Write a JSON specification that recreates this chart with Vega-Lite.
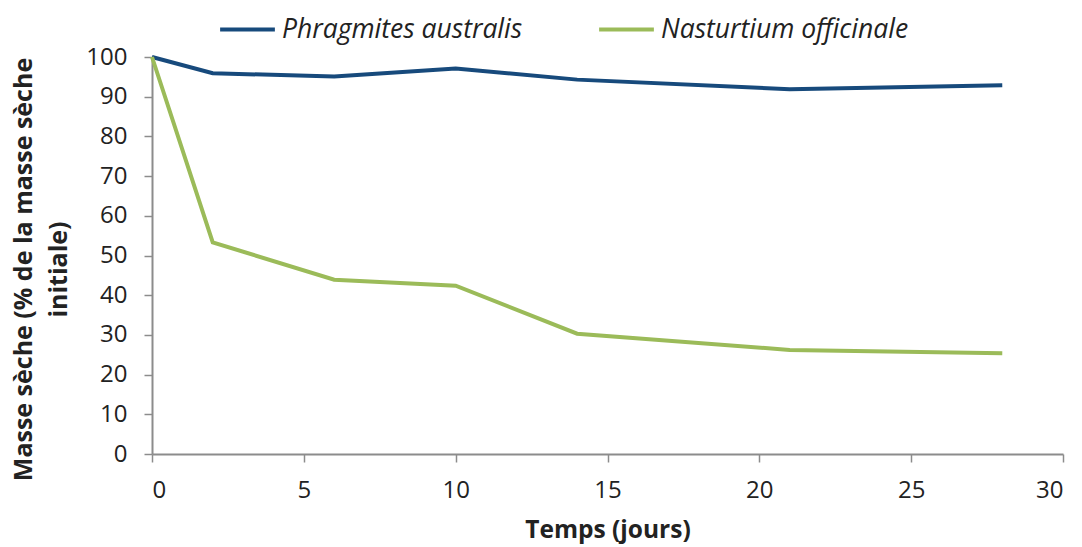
{
  "$schema": "https://vega.github.io/schema/vega-lite/v6.json",
  "width": 911,
  "height": 397,
  "autosize": {"type": "none"},
  "padding": {"left": 152, "top": 57, "right": 19, "bottom": 93},
  "background": "white",
  "config": {"view": {"stroke": null}, "font": "Open Sans"},
  "data": {"values": [
    {"jour": 0, "espece": "Phragmites australis", "masse": 100},
    {"jour": 2, "espece": "Phragmites australis", "masse": 95.9},
    {"jour": 6, "espece": "Phragmites australis", "masse": 95.1},
    {"jour": 10, "espece": "Phragmites australis", "masse": 97.1},
    {"jour": 14, "espece": "Phragmites australis", "masse": 94.3},
    {"jour": 21, "espece": "Phragmites australis", "masse": 91.9},
    {"jour": 28, "espece": "Phragmites australis", "masse": 92.9},
    {"jour": 0, "espece": "Nasturtium officinale", "masse": 100},
    {"jour": 2, "espece": "Nasturtium officinale", "masse": 53.3},
    {"jour": 6, "espece": "Nasturtium officinale", "masse": 43.9},
    {"jour": 10, "espece": "Nasturtium officinale", "masse": 42.4},
    {"jour": 14, "espece": "Nasturtium officinale", "masse": 30.3},
    {"jour": 21, "espece": "Nasturtium officinale", "masse": 26.2},
    {"jour": 28, "espece": "Nasturtium officinale", "masse": 25.4}
  ]},
  "mark": {"type": "line", "strokeWidth": 4},
  "encoding": {
    "x": {"field": "jour", "type": "quantitative",
      "scale": {"domain": [0, 30], "nice": false, "zero": true},
      "axis": {"values": [0,5,10,15,20,25,30], "title": "Temps (jours)", "grid": false,
        "domainColor": "#8c8c8c", "domainWidth": 2, "tickColor": "#8c8c8c", "tickWidth": 1.5, "tickSize": 8,
        "labelFontSize": 24, "labelColor": "#222", "labelPadding": 16,
        "titleFontSize": 24.5, "titleFontWeight": "bold", "titleColor": "#222", "titlePadding": 16}},
    "y": {"field": "masse", "type": "quantitative",
      "scale": {"domain": [0, 100], "nice": false},
      "axis": {"values": [0,10,20,30,40,50,60,70,80,90,100],
        "title": ["Masse sèche (% de la masse sèche", "initiale)"], "grid": false,
        "domainColor": "#8c8c8c", "domainWidth": 2, "tickColor": "#8c8c8c", "tickWidth": 1.5, "tickSize": 8,
        "labelFontSize": 24, "labelColor": "#222", "labelPadding": 17,
        "titleFontSize": 25, "titleFontWeight": "bold", "titleColor": "#222", "titlePadding": 14, "titleLineHeight": 35,
        "titleY": 212}},
    "color": {"field": "espece", "type": "nominal",
      "scale": {"domain": ["Phragmites australis", "Nasturtium officinale"], "range": ["#174A7C", "#9BBB59"]},
      "legend": {"title": null, "orient": "none", "direction": "horizontal", "legendX": 66, "legendY": -57,
        "symbolType": "stroke", "symbolStrokeWidth": 4, "symbolSize": 3000,
        "labelFontSize": 26.5, "labelFontStyle": "italic", "labelColor": "#222", "labelOffset": 5,
        "columnPadding": 68, "labelLimit": 400}}
  }
}
